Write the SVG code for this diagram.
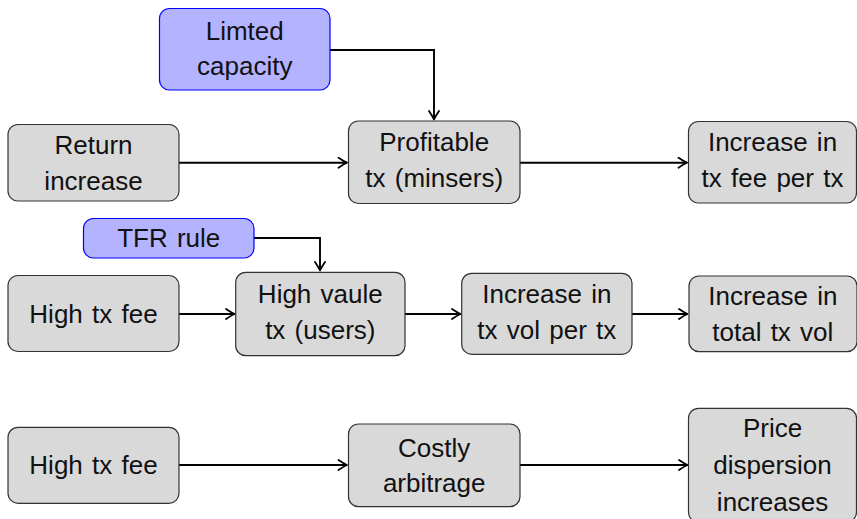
<svg xmlns="http://www.w3.org/2000/svg" width="857" height="519" viewBox="0 0 857 519">
  <defs>
    <marker id="arrow" viewBox="-10 -6 12 12" markerWidth="12" markerHeight="12" refX="0" refY="0" orient="auto" markerUnits="userSpaceOnUse">
      <path d="M -8.5 -5 Q -3 -1.3 0 0 Q -3 1.3 -8.5 5" fill="none" stroke="#000" stroke-width="1.8" stroke-linecap="round" stroke-linejoin="round"/>
    </marker>
    <style>
      .box { fill: #d9d9d9; stroke: #333; stroke-width: 1.2; }
      .cause { fill: #b3b3ff; stroke: #0000ff; stroke-width: 1.2; }
      text { font-family: "Liberation Sans", Arial, sans-serif; font-size: 26px; word-spacing: 2px; fill: #111; text-anchor: middle; }
      .edge { fill: none; stroke: #000; stroke-width: 1.9; marker-end: url(#arrow); }
    </style>
  </defs>

  <g id="connectors">
    <path class="edge" d="M 330 50 H 434 V 119.5"/>
    <path class="edge" d="M 179 162.7 H 347"/>
    <path class="edge" d="M 520 162.7 H 687"/>
    <path class="edge" d="M 254 238 H 320 V 270.5"/>
    <path class="edge" d="M 179 314 H 234.5"/>
    <path class="edge" d="M 405 314 H 460.5"/>
    <path class="edge" d="M 632 314 H 687.5"/>
    <path class="edge" d="M 179 465 H 347"/>
    <path class="edge" d="M 520 465 H 687.5"/>
  </g>

  <!-- top row -->
  <g id="limited-capacity">
    <rect class="cause" x="159.5" y="8.5" width="170.5" height="81.5" rx="10"/>
    <text x="244.7" y="39.5">Limted</text>
    <text x="244.7" y="75">capacity</text>
  </g>
  <g id="return-increase">
    <rect class="box" x="8" y="124.5" width="171" height="76.5" rx="10"/>
    <text x="93.5" y="154">Return</text>
    <text x="93.5" y="190">increase</text>
  </g>
  <g id="profitable-tx">
    <rect class="box" x="348.5" y="121" width="171.5" height="82.5" rx="10"/>
    <text x="434.2" y="150.5">Profitable</text>
    <text x="434.2" y="186.5">tx (minsers)</text>
  </g>
  <g id="fee-per-tx">
    <rect class="box" x="688.5" y="121.5" width="168" height="81.5" rx="10"/>
    <text x="772.5" y="151">Increase in</text>
    <text x="772.5" y="187">tx fee per tx</text>
  </g>

  <!-- middle row -->
  <g id="tfr-rule">
    <rect class="cause" x="83.5" y="218.5" width="170.5" height="39.5" rx="10"/>
    <text x="168.7" y="247">TFR rule</text>
  </g>
  <g id="high-fee-2">
    <rect class="box" x="8" y="275.5" width="171" height="76" rx="10"/>
    <text x="93.5" y="322.5">High tx fee</text>
  </g>
  <g id="high-value-tx">
    <rect class="box" x="235.7" y="272.3" width="169.3" height="83.4" rx="10"/>
    <text x="320.3" y="303">High vaule</text>
    <text x="320.3" y="339">tx (users)</text>
  </g>
  <g id="vol-per-tx">
    <rect class="box" x="461.7" y="273.3" width="170.3" height="81" rx="10"/>
    <text x="546.8" y="303">Increase in</text>
    <text x="546.8" y="339">tx vol per tx</text>
  </g>
  <g id="total-vol">
    <rect class="box" x="689" y="276" width="168" height="75.7" rx="10"/>
    <text x="772.8" y="305">Increase in</text>
    <text x="772.8" y="340.5">total tx vol</text>
  </g>

  <!-- bottom row -->
  <g id="high-fee-3">
    <rect class="box" x="8" y="427.3" width="171" height="76" rx="10"/>
    <text x="93.5" y="473.5">High tx fee</text>
  </g>
  <g id="costly-arbitrage">
    <rect class="box" x="348.5" y="424" width="171.5" height="82.7" rx="10"/>
    <text x="434.2" y="456.5">Costly</text>
    <text x="434.2" y="491.5">arbitrage</text>
  </g>
  <g id="price-dispersion">
    <rect class="box" x="688.5" y="408.3" width="168" height="114" rx="10"/>
    <text x="772.5" y="437">Price</text>
    <text x="772.5" y="474">dispersion</text>
    <text x="772.5" y="511">increases</text>
  </g>
</svg>
